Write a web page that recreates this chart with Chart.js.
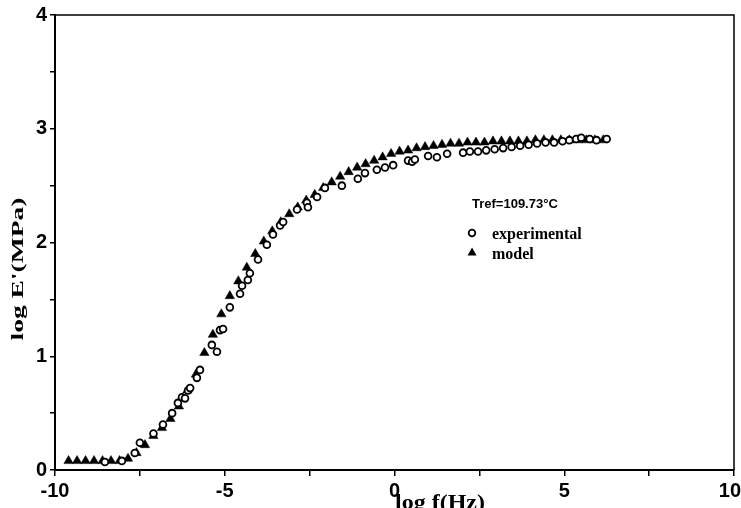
<!DOCTYPE html>
<html>
<head>
<meta charset="utf-8">
<script src="https://cdn.jsdelivr.net/npm/chart.js@4.4.1/dist/chart.umd.min.js"></script>
<style>
  html, body { margin: 0; padding: 0; background: #fff; }
  #wrap { width: 741px; height: 508px; position: relative; }
</style>
</head>
<body>
<div id="wrap"><canvas id="c" width="741" height="508"></canvas></div>
<script>
// ---- data ----
const expX = [-8.53, -8.03, -7.65, -7.5, -7.1, -6.82, -6.55, -6.38, -6.26, -6.17, -6.08, -6.02, -5.82, -5.73,
  -5.38, -5.23, -5.14, -5.05, -4.85, -4.55, -4.49, -4.32, -4.26, -4.02, -3.76, -3.58, -3.37, -3.28,
  -2.87, -2.58, -2.55, -2.28, -2.05, -1.55, -1.08, -0.87, -0.52, -0.28, -0.04, 0.40, 0.52, 0.60,
  0.99, 1.25, 1.55, 2.02, 2.22, 2.46, 2.7, 2.95, 3.2, 3.45, 3.7, 3.95, 4.2, 4.45, 4.7, 4.95,
  5.15, 5.35, 5.5, 5.75, 5.95, 6.25];
const expY = [0.07, 0.08, 0.15, 0.24, 0.32, 0.40, 0.50, 0.59, 0.64, 0.63, 0.70, 0.72, 0.81, 0.88,
  1.10, 1.04, 1.23, 1.24, 1.43, 1.55, 1.62, 1.67, 1.73, 1.85, 1.98, 2.07, 2.15, 2.18,
  2.29, 2.35, 2.31, 2.40, 2.48, 2.50, 2.56, 2.61, 2.64, 2.66, 2.68, 2.72, 2.71, 2.73,
  2.76, 2.75, 2.78, 2.79, 2.80, 2.80, 2.81, 2.82, 2.83, 2.84, 2.85, 2.86, 2.87, 2.88, 2.88, 2.89,
  2.90, 2.91, 2.92, 2.91, 2.90, 2.91];

const modelX = [-9.6, -9.35, -9.1, -8.85, -8.6, -8.35, -8.1, -7.85, -7.6, -7.35, -7.1, -6.85, -6.6, -6.35,
  -6.1, -5.85, -5.6, -5.35, -5.1, -4.85, -4.6, -4.35, -4.1, -3.85, -3.6, -3.35, -3.1, -2.85, -2.6,
  -2.35, -2.1, -1.85, -1.6, -1.35, -1.1, -0.85, -0.6, -0.35, -0.1, 0.15, 0.4, 0.65, 0.9, 1.15, 1.4,
  1.65, 1.9, 2.15, 2.4, 2.65, 2.9, 3.15, 3.4, 3.65, 3.9, 4.15, 4.4, 4.65, 4.9, 5.15, 5.4, 5.65, 5.9, 6.15];
const modelY = [0.08, 0.08, 0.08, 0.08, 0.08, 0.08, 0.08, 0.10, 0.15, 0.22, 0.30, 0.37, 0.45, 0.56,
  0.70, 0.84, 1.03, 1.19, 1.37, 1.53, 1.66, 1.78, 1.90, 2.01, 2.10, 2.18, 2.25, 2.31, 2.37,
  2.42, 2.48, 2.53, 2.58, 2.62, 2.66, 2.69, 2.72, 2.75, 2.78, 2.80, 2.81, 2.83, 2.84, 2.85, 2.86,
  2.87, 2.87, 2.88, 2.88, 2.88, 2.89, 2.89, 2.89, 2.89, 2.89, 2.90, 2.90, 2.90, 2.90, 2.90, 2.90, 2.90, 2.90, 2.90];

const xMajorTicks = [-10, -5, 0, 5];
const xLastTick = 10;
const yMajorTicks = [0, 1, 2, 3, 4];
const seriesNames = ['experimental', 'model'];
const refLabel = 'Tref=109.73\u00B0C';
const xTitle = 'log f(Hz)';
const yTitle = "log E'(MPa)";

const toPts = (xs, ys) => xs.map((x, i) => ({ x: x, y: ys[i] }));
const tickFontStr = "bold 20px 'Liberation Sans', Arial, sans-serif";

const boxPlugin = {
  id: 'boxAndText',
  afterDraw(chart) {
    const ctx = chart.ctx;
    const a = chart.chartArea;
    ctx.save();
    // top and right frame lines
    ctx.strokeStyle = '#000';
    ctx.lineWidth = 1.5;
    ctx.beginPath();
    ctx.moveTo(a.left, a.top);
    ctx.lineTo(a.right, a.top);
    ctx.lineTo(a.right, a.bottom);
    ctx.stroke();

    // last x tick label, kept inside the canvas as in the reference
    ctx.fillStyle = '#000';
    ctx.font = tickFontStr;
    ctx.textAlign = 'right';
    ctx.textBaseline = 'middle';
    ctx.fillText(String(xLastTick), 741, chart.scales.x.bottom - 17);

    // legend block
    ctx.font = "bold 13px 'Liberation Sans', Arial, sans-serif";
    ctx.textBaseline = 'middle';
    ctx.textAlign = 'left';
    ctx.fillText(refLabel, 472, 204);

    // circle marker
    ctx.beginPath();
    ctx.arc(472, 233, 3.3, 0, Math.PI * 2);
    ctx.lineWidth = 1.8;
    ctx.stroke();
    // triangle marker
    ctx.beginPath();
    ctx.moveTo(472, 247.5);
    ctx.lineTo(476.5, 255.5);
    ctx.lineTo(467.5, 255.5);
    ctx.closePath();
    ctx.fill();

    ctx.font = "bold 16px 'Liberation Serif', 'Times New Roman', serif";
    ctx.textBaseline = 'alphabetic';
    ctx.fillText(seriesNames[0], 492, 239);
    ctx.fillText(seriesNames[1], 492, 259);

    // x axis title
    ctx.save();
    ctx.font = "bold 20px 'Liberation Serif', 'Times New Roman', serif";
    ctx.textAlign = 'center';
    ctx.textBaseline = 'alphabetic';
    ctx.translate(440, 509);
    ctx.scale(1.2, 1);
    ctx.fillText(xTitle, 0, 0);
    ctx.restore();

    // y axis title
    ctx.save();
    ctx.font = "bold 17px 'Liberation Serif', 'Times New Roman', serif";
    ctx.textAlign = 'center';
    ctx.textBaseline = 'middle';
    ctx.translate(19, 269);
    ctx.rotate(-Math.PI / 2);
    ctx.scale(1.62, 1);
    ctx.fillText(yTitle, 0, 0);
    ctx.restore();

    ctx.restore();
  }
};

const tickFont = { family: "'Liberation Sans', Arial, sans-serif", size: 20, weight: 'bold' };

new Chart(document.getElementById('c'), {
  type: 'scatter',
  data: {
    datasets: [
      {
        label: seriesNames[0],
        data: toPts(expX, expY),
        pointStyle: 'circle',
        pointRadius: 3.4,
        pointBorderWidth: 1.8,
        borderColor: '#000',
        backgroundColor: '#fff',
        showLine: false
      },
      {
        label: seriesNames[1],
        data: toPts(modelX, modelY),
        pointStyle: 'triangle',
        pointRadius: 5.4,
        pointBorderWidth: 0.5,
        borderColor: '#000',
        backgroundColor: '#000',
        showLine: false
      }
    ]
  },
  options: {
    responsive: false,
    animation: false,
    devicePixelRatio: 1,
    layout: { padding: { left: 0, right: 7, top: 15, bottom: 0 } },
    plugins: {
      legend: { display: false },
      tooltip: { enabled: false },
      title: { display: false }
    },
    scales: {
      x: {
        type: 'linear',
        min: -10, max: 10,
        afterBuildTicks(scale) {
          const t = [];
          for (let v = -10; v <= 10; v += 2.5) t.push({ value: v });
          scale.ticks = t;
        },
        afterFit(scale) {
          scale.height = 38;
          scale.paddingLeft = 0;
          scale.paddingRight = 0;
        },
        ticks: {
          autoSkip: false,
          maxRotation: 0,
          minRotation: 0,
          padding: 3,
          color: '#000',
          font: tickFont,
          callback: (v) => xMajorTicks.includes(v) ? String(v) : ''
        },
        grid: { display: true, drawOnChartArea: false, drawTicks: true, tickLength: 6, color: '#000', lineWidth: 1.5 },
        border: { display: true, color: '#000', width: 2 }
      },
      y: {
        type: 'linear',
        min: 0, max: 4,
        afterBuildTicks(scale) {
          const t = [];
          for (let v = 0; v <= 4; v += 0.5) t.push({ value: v });
          scale.ticks = t;
        },
        afterFit(scale) {
          scale.width = 55;
          scale.paddingTop = 0;
          scale.paddingBottom = 0;
        },
        ticks: {
          autoSkip: false,
          padding: 3,
          color: '#000',
          font: tickFont,
          callback: (v) => yMajorTicks.includes(v) ? String(v) : ''
        },
        grid: { display: true, drawOnChartArea: false, drawTicks: true, tickLength: 5, color: '#000', lineWidth: 1.5 },
        border: { display: true, color: '#000', width: 2 }
      }
    }
  },
  plugins: [boxPlugin]
});
</script>
</body>
</html>
